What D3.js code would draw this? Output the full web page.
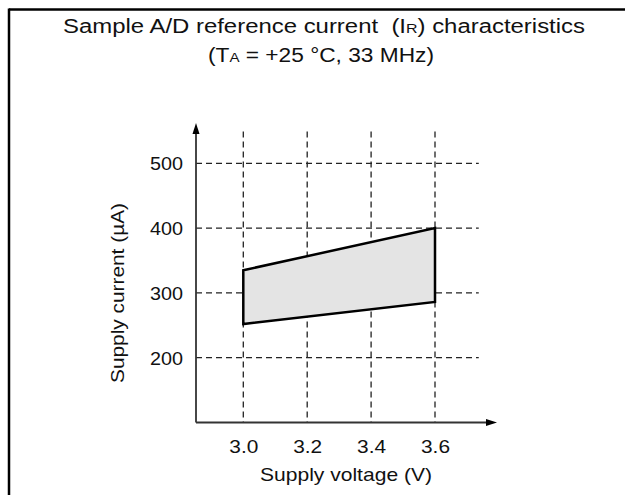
<!DOCTYPE html>
<html>
<head>
<meta charset="utf-8">
<script src="https://cdn.jsdelivr.net/npm/d3@7"></script>
<style>
  html, body { margin: 0; padding: 0; background: #fff; }
  svg { display: block; }
  text { font-family: "Liberation Sans", Arial, sans-serif; fill: #111; }
</style>
</head>
<body>
<svg id="chart" width="625" height="495"></svg>
<script>
// ---- data ----
const voltages = [3.0, 3.6];
const upperCurrent = [335, 400];
const lowerCurrent = [252, 286];
const xTicks = [3.0, 3.2, 3.4, 3.6];
const yTicks = [200, 300, 400, 500];
const xTickLabels = ["3.0", "3.2", "3.4", "3.6"];
const yTickLabels = ["200", "300", "400", "500"];

// ---- layout ----
const svg = d3.select("#chart");
const x = d3.scaleLinear().domain([3.0, 3.6]).range([243.3, 435]);
const y = d3.scaleLinear().domain([200, 500]).range([357.7, 163.3]);

const axisX0 = 196, axisY0 = y(100);       // origin of axes
const xArrowEnd = 497, yArrowEnd = 123;
const gridTop = y(549), gridRight = x(3.737);

// frame
svg.append("line").attr("x1", 9).attr("y1", 9.5).attr("x2", 625).attr("y2", 9.5)
  .attr("stroke", "#000").attr("stroke-width", 2.5);
svg.append("line").attr("x1", 9).attr("y1", 8.5).attr("x2", 9).attr("y2", 495)
  .attr("stroke", "#000").attr("stroke-width", 2.5);

// title
const t1 = svg.append("text").attr("x", 324).attr("y", 33)
  .attr("text-anchor", "middle").attr("font-size", 19.5).style("white-space", "pre")
  .attr("textLength", 522).attr("lengthAdjust", "spacingAndGlyphs");
t1.append("tspan").text("Sample A/D reference current  (I");
t1.append("tspan").attr("font-size", 13).text("R");
t1.append("tspan").text(") characteristics");

const t2 = svg.append("text").attr("x", 321).attr("y", 62)
  .attr("text-anchor", "middle").attr("font-size", 19.5)
  .attr("textLength", 226).attr("lengthAdjust", "spacingAndGlyphs");
t2.append("tspan").text("(T");
t2.append("tspan").attr("font-size", 13).text("A");
t2.append("tspan").text(" = +25 \u00B0C, 33 MHz)");

// grid
const grid = svg.append("g").attr("stroke", "#222").attr("stroke-width", 1.3)
  .attr("stroke-dasharray", "6,4");
grid.selectAll("line.v").data(xTicks).join("line").attr("class", "v")
  .attr("x1", d => x(d)).attr("x2", d => x(d))
  .attr("y1", gridTop).attr("y2", axisY0);
grid.selectAll("line.h").data(yTicks).join("line").attr("class", "h")
  .attr("x1", axisX0).attr("x2", gridRight)
  .attr("y1", d => y(d)).attr("y2", d => y(d));

// band polygon
const pts = voltages.map((v, i) => [x(v), y(upperCurrent[i])])
  .concat(voltages.map((v, i) => [x(v), y(lowerCurrent[i])]).reverse());
svg.append("path")
  .attr("d", d3.line()(pts) + "Z")
  .attr("fill", "#e4e4e4").attr("stroke", "#000").attr("stroke-width", 2.5)
  .attr("stroke-linejoin", "miter");

// axes lines with arrows
svg.append("line").attr("x1", axisX0).attr("y1", axisY0).attr("x2", xArrowEnd - 8).attr("y2", axisY0)
  .attr("stroke", "#333").attr("stroke-width", 1.8);
svg.append("line").attr("x1", axisX0).attr("y1", axisY0).attr("x2", axisX0).attr("y2", yArrowEnd + 8)
  .attr("stroke", "#333").attr("stroke-width", 1.8);
svg.append("path").attr("d", `M${xArrowEnd},${axisY0} L${xArrowEnd - 11},${axisY0 - 3.5} L${xArrowEnd - 11},${axisY0 + 3.5} Z`)
  .attr("fill", "#000");
svg.append("path").attr("d", `M${axisX0},${yArrowEnd} L${axisX0 - 3.5},${yArrowEnd + 11} L${axisX0 + 3.5},${yArrowEnd + 11} Z`)
  .attr("fill", "#000");

// tick labels via d3 axes
const xAxis = d3.axisBottom(x).tickValues(xTicks).tickSize(0).tickPadding(0)
  .tickFormat((d, i) => xTickLabels[i]);
const gx = svg.append("g").attr("transform", `translate(0,${axisY0})`).call(xAxis);
gx.select(".domain").remove();
gx.selectAll("text").attr("font-size", 19).attr("font-family", null).attr("fill", "#111")
  .attr("dy", null).attr("y", 30.5)
  .attr("textLength", 29).attr("lengthAdjust", "spacingAndGlyphs");

const yAxis = d3.axisLeft(y).tickValues(yTicks).tickSize(0).tickPadding(0)
  .tickFormat((d, i) => yTickLabels[i]);
const gy = svg.append("g").attr("transform", `translate(183,0)`).call(yAxis);
gy.select(".domain").remove();
gy.selectAll("text").attr("font-size", 19).attr("font-family", null).attr("fill", "#111")
  .attr("x", 0).attr("dy", "0.35em")
  .attr("textLength", 33).attr("lengthAdjust", "spacingAndGlyphs");

// axis titles
svg.append("text").attr("x", 346).attr("y", 481).attr("text-anchor", "middle")
  .attr("font-size", 19).attr("textLength", 172).attr("lengthAdjust", "spacingAndGlyphs")
  .text("Supply voltage (V)");
svg.append("text").attr("transform", "translate(124,293) rotate(-90)")
  .attr("text-anchor", "middle").attr("font-size", 19)
  .attr("textLength", 180).attr("lengthAdjust", "spacingAndGlyphs")
  .text("Supply current (\u00B5A)");
</script>
</body>
</html>
